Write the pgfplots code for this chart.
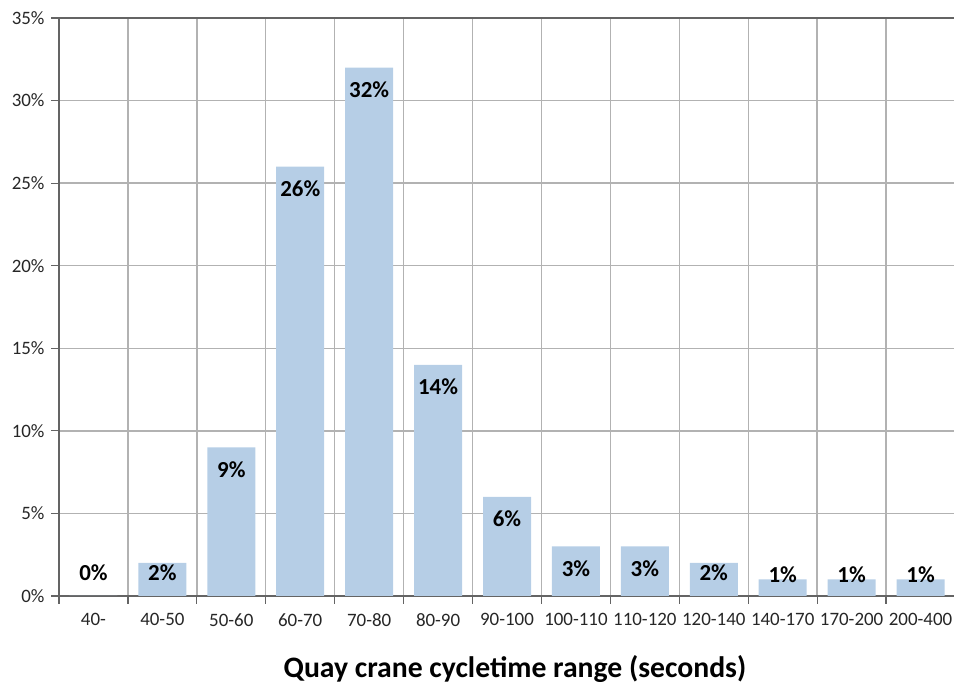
\documentclass[border=0pt]{standalone}
\usepackage{pgfplots}
\pgfplotsset{compat=1.18}
\usepackage{pgfplotstable}
\usepackage{fontspec}
\setmainfont{Carlito}

\definecolor{barblue}{RGB}{182,206,230}
\definecolor{gridgray}{RGB}{178,178,178}
\definecolor{axisgray}{RGB}{100,100,100}

% share of quay crane cycles per cycletime range; lshift moves the label (bp)
\pgfplotstableread{
x  y   lshift
0  0   23
1  2   -10
2  9   -22
3  26  -22
4  32  -22
5  14  -22
6  6   -22
7  3   -22
8  3   -22
9  2   -10
10 1   5
11 1   5
12 1   5
}\cycledata

\begin{document}
\begin{tikzpicture}[x=1bp,y=1bp]
\useasboundingbox (0,0) rectangle (954,684);
\begin{axis}[
  at={(59bp,88bp)}, anchor=south west,
  scale only axis, width=896bp, height=578bp,
  xmin=-0.5, xmax=12.5, ymin=0, ymax=35,
  /pgf/number format/assume math mode=true,
  axis x line*=box, axis y line*=left,
  axis line style={draw=axisgray, line width=2.2bp},
  xtick pos=bottom, ytick pos=left,
  xtick={0,...,12},
  xticklabels={40-,40-50,50-60,60-70,70-80,80-90,90-100,100-110,110-120,120-140,140-170,170-200,200-400},
  major x tick style={draw=none},
  minor xtick={-0.5,0.5,...,12.5},
  minor x tick style={draw=axisgray, line width=1.2bp},
  xminorgrids=true,
  minor x grid style={draw=gridgray, line width=1.4bp},
  ytick={0,5,...,35},
  yticklabels={0\%,5\%,10\%,15\%,20\%,25\%,30\%,35\%},
  ymajorgrids=true,
  major y grid style={draw=gridgray, line width=1.4bp},
  major y tick style={draw=axisgray, line width=1.2bp},
  tick align=outside, major tick length=8bp, minor tick length=8bp,
  tick label style={font=\fontsize{19}{23}\selectfont, text=black!85},
  xticklabel style={yshift=-6bp},
  yticklabel style={xshift=-3bp},
  xlabel={\textbf{Quay crane cycletime range (seconds)}},
  xlabel style={font=\fontsize{29.8}{34}\selectfont, text=black, yshift=-22bp, xshift=8bp},
  ybar, bar width=48bp, bar shift=0pt,
  nodes near coords={\textbf{\pgfmathprintnumber{\pgfplotspointmeta}\%}},
  point meta=y,
  visualization depends on={\thisrow{lshift} \as \lshift},
  every node near coord/.append style={anchor=center, yshift=\lshift bp,
     font=\fontsize{23}{27}\selectfont, text=black},
]
\addplot[fill=barblue, draw=none] table[x=x, y=y] {\cycledata};
\end{axis}
\end{tikzpicture}
\end{document}
